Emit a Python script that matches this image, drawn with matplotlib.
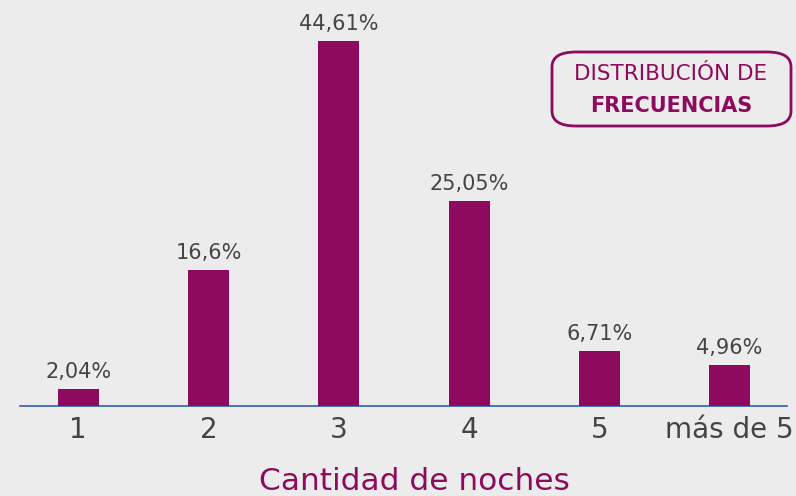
import matplotlib
matplotlib.use('Agg')
import matplotlib.pyplot as plt
from matplotlib.patches import FancyBboxPatch

# datos
categorias = ['1', '2', '3', '4', '5', 'más de 5']
porcentajes = [2.04, 16.6, 44.61, 25.05, 6.71, 4.96]
etiquetas = ['2,04%', '16,6%', '44,61%', '25,05%', '6,71%', '4,96%']

fondo = '#ececec'
morado = '#8e0a5e'
gris = '#444444'

plt.rcParams['font.family'] = ['DejaVu Sans']

fig = plt.figure(figsize=(7.96, 4.96), dpi=100, facecolor=fondo)
ax = fig.add_axes([20 / 796, 90 / 496, 767 / 796, 406 / 496])
ax.set_facecolor(fondo)

x = range(len(categorias))
ax.bar(x, porcentajes, width=0.315, color=morado, zorder=2, clip_on=False)
for xi, v, t in zip(x, porcentajes, etiquetas):
    ax.text(xi, v + 0.9, t, ha='center', va='bottom', fontsize=15, color=gris)

ax.set_xlim(-0.447, 5.44)
ax.set_ylim(0, 406 / 8.18)
# linea base azul
ax.axhline(0, color='#2f5fa8', lw=1.2, zorder=1, clip_on=False)

for s in ax.spines.values():
    s.set_visible(False)
ax.set_yticks([])
ax.set_xticks(list(x))
ax.set_xticklabels(categorias, fontsize=20, color=gris)
ax.tick_params(axis='x', length=0, pad=7)

fig.text(414 / 796, 1 - 481 / 496, 'Cantidad de noches', ha='center', va='center',
         fontsize=22.5, color=morado)

# recuadro del titulo
caja = FancyBboxPatch((552 / 796, 1 - 126 / 496), 239 / 796, 74 / 496,
                      boxstyle='round,pad=0,rounding_size=0.03',
                      transform=fig.transFigure, fc='none', ec=morado, lw=2)
fig.patches.append(caja)
fig.text(671 / 796, 1 - 74 / 496, 'DISTRIBUCIÓN DE', ha='center', va='center',
         fontsize=15.5, color=morado)
fig.text(671 / 796, 1 - 106 / 496, 'FRECUENCIAS', ha='center', va='center',
         fontsize=15, color=morado, fontweight='bold')

fig.savefig('out.png', dpi=100, facecolor=fondo)
